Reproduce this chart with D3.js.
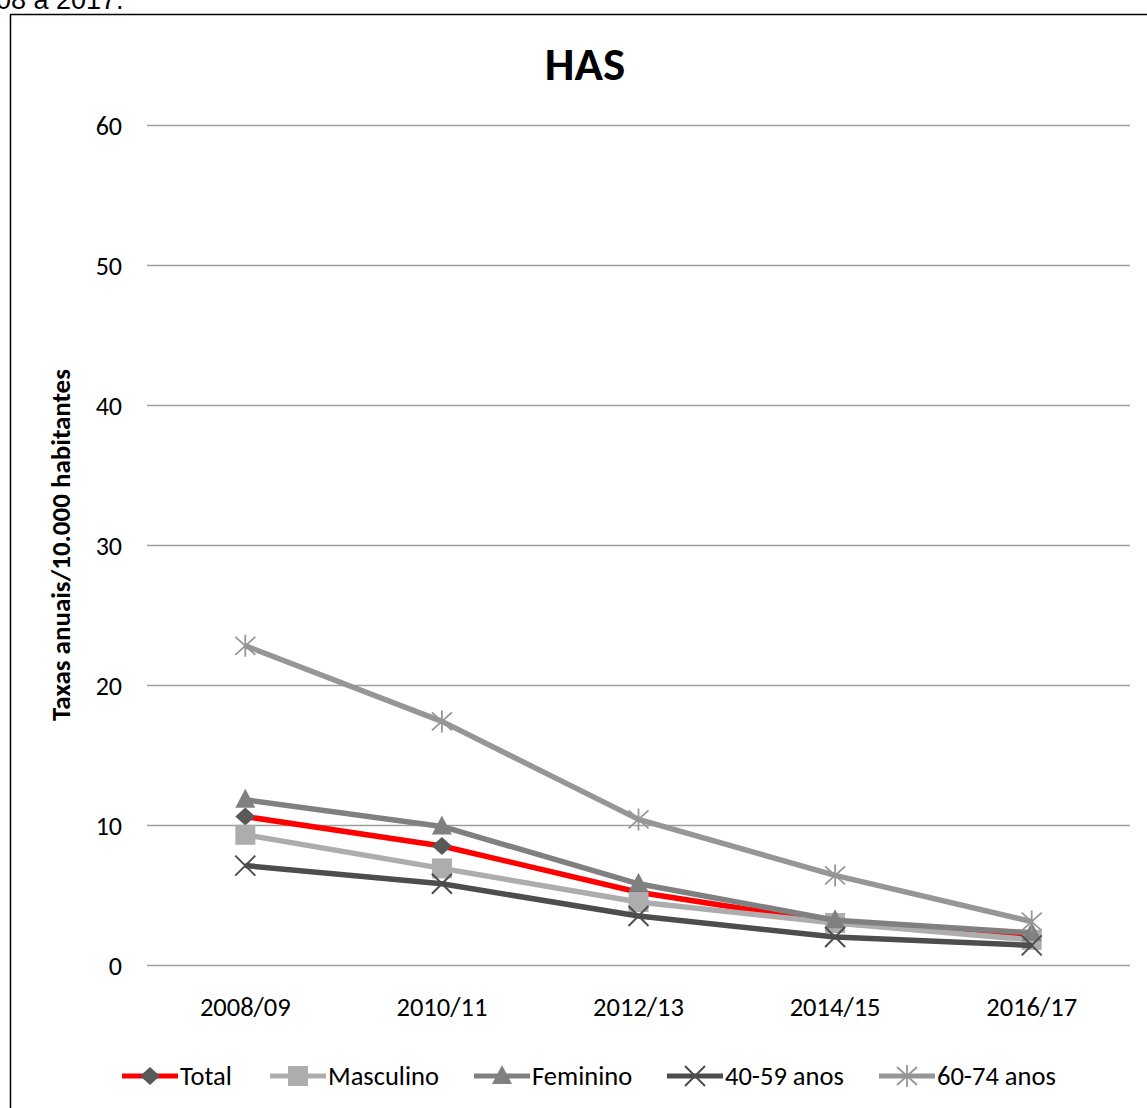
<!DOCTYPE html>
<html>
<head>
<meta charset="utf-8">
<script src="https://cdn.jsdelivr.net/npm/d3@7"></script>
<style>
  html, body { margin: 0; padding: 0; background: #fff; }
  svg { display: block; }
</style>
</head>
<body>
<svg id="chart" width="1147" height="1108"></svg>
<script>
// Periods on the x axis
const periods = ["2008/09", "2010/11", "2012/13", "2014/15", "2016/17"];
// Annual rates per 10,000 inhabitants, one array per series
const total     = [10.6, 8.5, 5.2, 3.0, 2.1];
const masculino = [9.3, 6.9, 4.5, 3.0, 1.8];
const feminino  = [11.8, 9.9, 5.8, 3.2, 2.3];
const age40_59  = [7.1, 5.8, 3.5, 2.0, 1.4];
const age60_74  = [22.8, 17.4, 10.4, 6.4, 3.1];
const yTicks = [0, 10, 20, 30, 40, 50, 60];

const series = [
  { name: "Total",       values: total,     line: "#FF0000", mark: "#595959", symbol: "diamond" },
  { name: "Masculino",   values: masculino, line: "#ADADAD", mark: "#ADADAD", symbol: "square" },
  { name: "Feminino",    values: feminino,  line: "#808080", mark: "#808080", symbol: "triangle" },
  { name: "40-59 anos",  values: age40_59,  line: "#4D4D4D", mark: "#4D4D4D", symbol: "x" },
  { name: "60-74 anos",  values: age60_74,  line: "#969696", mark: "#969696", symbol: "star" }
];

const svg = d3.select("#chart");
const font = "Calibri, Carlito, Lato, 'Noto Sans', sans-serif";

// Caption fragment above the frame
svg.append("text")
  .attr("x", -4).attr("y", 9)
  .attr("font-family", "'Liberation Sans', Arial, sans-serif")
  .attr("font-size", 27)
  .attr("fill", "#000")
  .text("08 a 2017.");

// Chart frame
svg.append("rect")
  .attr("x", 10.5).attr("y", 14.5)
  .attr("width", 1300).attr("height", 1300)
  .attr("fill", "none").attr("stroke", "#000").attr("stroke-width", 1.5);

const plot = { left: 147, right: 1130, top: 125, bottom: 965 };

const x = d3.scaleBand().domain(periods).range([plot.left, plot.right]);
const y = d3.scaleLinear().domain([0, 60]).range([plot.bottom, plot.top]);

// Title
svg.append("text")
  .attr("x", 585).attr("y", 80)
  .attr("text-anchor", "middle")
  .attr("font-family", font)
  .attr("font-weight", "bold")
  .attr("font-size", 47)
  .text("HAS");

// Horizontal gridlines
svg.append("g")
  .selectAll("line")
  .data(yTicks)
  .join("line")
  .attr("x1", plot.left).attr("x2", plot.right)
  .attr("y1", d => Math.round(y(d)) + 0.5).attr("y2", d => Math.round(y(d)) + 0.5)
  .attr("stroke", "#9E9E9E").attr("stroke-width", 1.6);

// Y axis tick labels
const yAxis = svg.append("g")
  .attr("transform", `translate(${plot.left - 25},0)`)
  .call(d3.axisLeft(y).tickValues(yTicks).tickSize(0).tickPadding(0));
yAxis.select(".domain").remove();
yAxis.selectAll("text")
  .attr("font-family", font).attr("font-size", 26).attr("fill", "#000")
  .attr("dy", "0.35em");

// X axis tick labels
const xAxis = svg.append("g")
  .attr("transform", `translate(0,${plot.bottom + 31})`)
  .call(d3.axisBottom(x).tickSize(0).tickPadding(0));
xAxis.select(".domain").remove();
xAxis.selectAll("text")
  .attr("font-family", font).attr("font-size", 26.5).attr("fill", "#000")
  .attr("dy", "0.75em");

// Y axis title
svg.append("text")
  .attr("transform", `translate(70,545) rotate(-90)`)
  .attr("text-anchor", "middle")
  .attr("font-family", font)
  .attr("font-weight", "bold")
  .attr("font-size", 27)
  .text("Taxas anuais/10.000 habitantes");

// Marker drawing
function drawMarker(g, type, color) {
  switch (type) {
    case "diamond":
      g.append("path").attr("d", "M0,-9L10,0L0,9L-10,0Z").attr("fill", color);
      break;
    case "square":
      g.append("rect").attr("x", -10).attr("y", -10).attr("width", 20).attr("height", 20).attr("fill", color);
      break;
    case "triangle":
      g.append("path").attr("d", "M0,-11L10,8L-10,8Z").attr("fill", color);
      break;
    case "x":
      g.append("path").attr("d", "M-10,-10L10,10M-10,10L10,-10")
        .attr("stroke", color).attr("stroke-width", 2).attr("fill", "none");
      break;
    case "star":
      g.append("path").attr("d", "M-10,-9L10,9M-10,9L10,-9M0,-11L0,11")
        .attr("stroke", color).attr("stroke-width", 1.8).attr("fill", "none");
      break;
  }
}

const cx = p => x(p) + x.bandwidth() / 2;
const line = d3.line().x((d, i) => cx(periods[i])).y(d => y(d));

// Series lines and markers
const seriesG = svg.append("g")
  .selectAll("g")
  .data(series)
  .join("g");

seriesG.append("path")
  .attr("d", d => line(d.values))
  .attr("fill", "none")
  .attr("stroke", d => d.line)
  .attr("stroke-width", 5.5)
  .attr("stroke-linejoin", "round");

seriesG.each(function(s) {
  const g = d3.select(this);
  s.values.forEach((v, i) => {
    const m = g.append("g").attr("transform", `translate(${cx(periods[i])},${y(v)})`);
    drawMarker(m, s.symbol, s.mark);
  });
});

// Legend
const legendX = [122, 270, 474, 667, 879];
const legend = svg.append("g")
  .selectAll("g")
  .data(series)
  .join("g")
  .attr("transform", (d, i) => `translate(${legendX[i]},1076)`);

legend.append("line")
  .attr("x1", 0).attr("x2", 56).attr("y1", 0).attr("y2", 0)
  .attr("stroke", d => d.line).attr("stroke-width", 5);
legend.each(function(s) {
  const m = d3.select(this).append("g").attr("transform", "translate(28,0)");
  drawMarker(m, s.symbol, s.mark);
});
legend.append("text")
  .attr("x", 58).attr("y", 0).attr("dy", "0.35em")
  .attr("font-family", font).attr("font-size", 26.5).attr("fill", "#000")
  .text(d => d.name);
</script>
</body>
</html>
